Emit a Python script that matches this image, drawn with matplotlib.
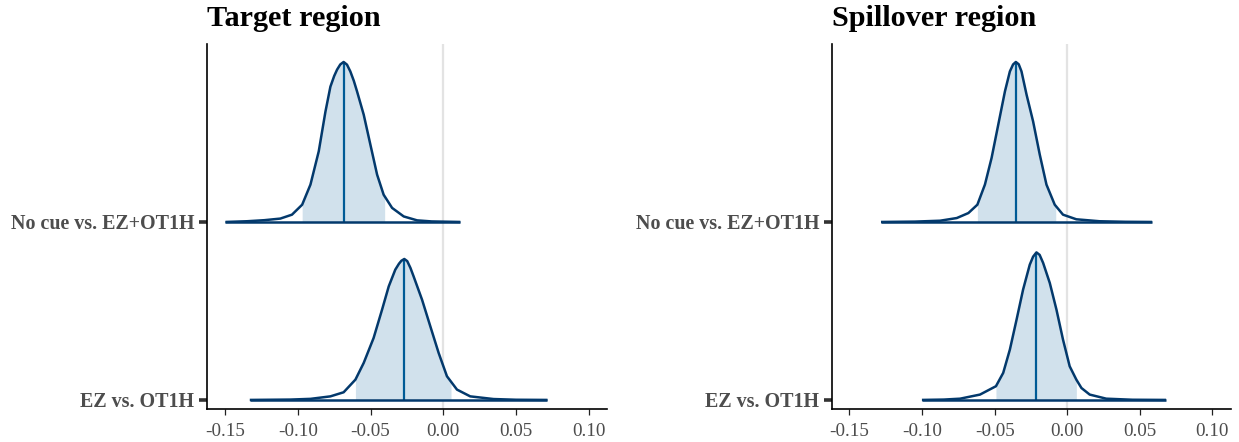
import numpy as np
import matplotlib
matplotlib.use("Agg")
import matplotlib.pyplot as plt

# ---------------- data ----------------
panel_titles = ["Target region", "Spillover region"]
row_labels = ["EZ vs. OT1H", "No cue vs. EZ+OT1H"]   # bottom -> top
x_ticks = [-0.15, -0.10, -0.05, 0.00, 0.05, 0.10]
x_tick_labels = ["-0.15", "-0.10", "-0.05", "0.00", "0.05", "0.10"]

# Target region, "No cue vs. EZ+OT1H"
t_nocue_x = [-0.1497, -0.135, -0.123, -0.112, -0.104, -0.097, -0.0913, -0.0856, -0.081,
             -0.0776, -0.075, -0.073, -0.0708, -0.0685, -0.0662, -0.0639, -0.0615,
             -0.0593, -0.0547, -0.0501, -0.0455, -0.041, -0.0352, -0.0272, -0.018,
             -0.008, 0.0117]
t_nocue_h = [0.0, 0.004, 0.01, 0.019, 0.041, 0.097, 0.21, 0.397, 0.62,
             0.76, 0.82, 0.856, 0.885, 0.899, 0.884, 0.846, 0.793,
             0.734, 0.603, 0.434, 0.266, 0.153, 0.079, 0.031, 0.009,
             0.003, 0.0]
t_nocue_med = -0.0685
t_nocue_int = (-0.097, -0.0403)

# Target region, "EZ vs. OT1H"
t_ez_x = [-0.133, -0.105, -0.0913, -0.0776, -0.0685, -0.0604, -0.0547, -0.0479, -0.0421,
          -0.0375, -0.033, -0.0305, -0.0288, -0.0268, -0.0248, -0.0226, -0.0204,
          -0.0146, -0.0089, -0.0032, 0.0025, 0.0094, 0.0185, 0.0345, 0.05, 0.0716]
t_ez_h = [0.0, 0.002, 0.006, 0.02, 0.043, 0.114, 0.208, 0.348, 0.507,
          0.638, 0.732, 0.765, 0.782, 0.792, 0.780, 0.742, 0.694,
          0.563, 0.413, 0.264, 0.133, 0.058, 0.02, 0.005, 0.001, 0.0]
t_ez_med = -0.0272
t_ez_int = (-0.0604, 0.0053)

# Spillover region, "No cue vs. EZ+OT1H"
s_nocue_x = [-0.1283, -0.105, -0.0876, -0.0761, -0.0681, -0.0619, -0.0567, -0.0521, -0.0475,
             -0.0429, -0.0395, -0.0373, -0.0354, -0.0334, -0.0315, -0.028, -0.0235,
             -0.0189, -0.0143, -0.0086, -0.0029, 0.0063, 0.0223, 0.04, 0.0585]
s_nocue_h = [0.0, 0.002, 0.007, 0.022, 0.05, 0.097, 0.21, 0.36, 0.547,
             0.734, 0.846, 0.885, 0.899, 0.886, 0.846, 0.715, 0.565,
             0.378, 0.21, 0.097, 0.041, 0.015, 0.004, 0.001, 0.0]
s_nocue_med = -0.0354
s_nocue_int = (-0.0619, -0.0079)

# Spillover region, "EZ vs. OT1H"
s_ez_x = [-0.1001, -0.085, -0.0738, -0.0601, -0.0491, -0.0441, -0.0395, -0.0349, -0.0304,
          -0.0258, -0.0235, -0.0212, -0.019, -0.0166, -0.012, -0.0074, -0.0029,
          0.0017, 0.0063, 0.0098, 0.0155, 0.0269, 0.045, 0.0681]
s_ez_h = [0.0, 0.002, 0.007, 0.03, 0.077, 0.152, 0.283, 0.451, 0.62,
          0.76, 0.805, 0.829, 0.815, 0.77, 0.657, 0.507, 0.339,
          0.189, 0.114, 0.067, 0.03, 0.007, 0.001, 0.0]
s_ez_med = -0.0215
s_ez_int = (-0.0491, 0.0063)

panels = [
    [(t_ez_x, t_ez_h, t_ez_med, t_ez_int), (t_nocue_x, t_nocue_h, t_nocue_med, t_nocue_int)],
    [(s_ez_x, s_ez_h, s_ez_med, s_ez_int), (s_nocue_x, s_nocue_h, s_nocue_med, s_nocue_int)],
]

# ---------------- styling ----------------
FILL = "#d1e1ec"
OUTLINE = "#03396c"
MEDIAN = "#005b96"
SERIF = ["Liberation Serif", "DejaVu Serif"]

W, H = 1239, 442
fig = plt.figure(figsize=(W / 100, H / 100), dpi=100)

ax_rects = [
    (207 / W, (H - 409) / H, 400 / W, 365 / H),
    (831.5 / W, (H - 409) / H, 399 / W, 365 / H),
]

for p, rect in enumerate(ax_rects):
    ax = fig.add_axes(rect)
    ax.axvline(0, color="#e3e3e3", lw=1.6, zorder=0)
    for r, (xs, hs, med, (lo, hi)) in enumerate(panels[p]):
        base = r + 1
        xs = np.asarray(xs)
        hs = np.asarray(hs)
        # shaded inner interval
        mask = (xs > lo) & (xs < hi)
        fx = np.concatenate([[lo], xs[mask], [hi]])
        fh = np.concatenate([[np.interp(lo, xs, hs)], hs[mask], [np.interp(hi, xs, hs)]])
        ax.fill_between(fx, base, base + fh, color=FILL, lw=0, zorder=1)
        # median line
        ax.plot([med, med], [base, base + np.interp(med, xs, hs)], color=MEDIAN,
                lw=1.6, zorder=2, solid_capstyle="butt")
        # outline incl. baseline
        ax.plot(xs, base + hs, color=OUTLINE, lw=1.8, zorder=3,
                solid_joinstyle="round", solid_capstyle="butt")
        ax.plot([xs[0], xs[-1]], [base, base], color=OUTLINE, lw=1.8, zorder=3,
                solid_capstyle="butt")

    ax.set_xlim(-0.1624, 0.1125)
    ax.set_ylim(0.949, 3.0)
    ax.set_xticks(x_ticks)
    ax.set_xticklabels(x_tick_labels, fontfamily=SERIF, fontsize=13.8, color="#4d4d4d")
    ax.set_yticks([1, 2])
    ax.set_yticklabels(row_labels, fontfamily=SERIF, fontsize=14.4, fontweight="bold",
                       color="#4d4d4d")
    ax.tick_params(axis="x", length=4, width=0.9, color="#222222", pad=6)
    ax.tick_params(axis="y", length=6, width=2.6, color="#333333", pad=3)
    for s in ["top", "right"]:
        ax.spines[s].set_visible(False)
    for s in ["left", "bottom"]:
        ax.spines[s].set_linewidth(1.2)
        ax.spines[s].set_color("black")

    fig.text(rect[0], (H - 26) / H, panel_titles[p], fontfamily=SERIF, fontsize=21.8,
             fontweight="bold", ha="left", va="baseline", color="black")

fig.savefig("out.png", dpi=100)
